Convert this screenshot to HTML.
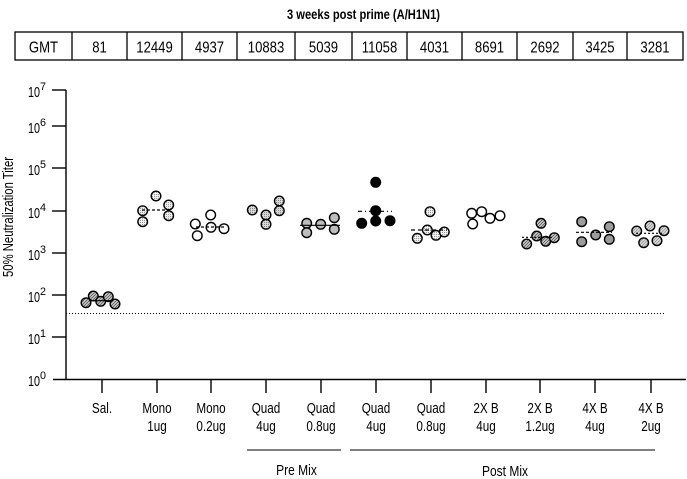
<!DOCTYPE html>
<html>
<head>
<meta charset="utf-8">
<style>
html,body{margin:0;padding:0;background:#fff;}
svg{display:block;}
text{font-family:"Liberation Sans",Arial,sans-serif;fill:#000;}
</style>
</head>
<body>
<svg width="687" height="479" viewBox="0 0 687 479" xmlns="http://www.w3.org/2000/svg">
<defs>
  <pattern id="hatch" patternUnits="userSpaceOnUse" width="3" height="3">
    <rect width="3" height="3" fill="#d0d0d0"/>
    <path d="M-1,1 L1,-1 M0,3 L3,0 M2,4 L4,2" stroke="#555" stroke-width="0.8"/>
  </pattern>
  <pattern id="hatchL" patternUnits="userSpaceOnUse" width="3" height="3">
    <rect width="3" height="3" fill="#dcdcdc"/>
    <path d="M-1,1 L1,-1 M0,3 L3,0 M2,4 L4,2" stroke="#888" stroke-width="0.7"/>
  </pattern>
  <pattern id="stip" patternUnits="userSpaceOnUse" width="2" height="2">
    <rect width="2" height="2" fill="#eeeeee"/>
    <rect width="1" height="1" fill="#9a9a9a"/>
  </pattern>
  <pattern id="stip2" patternUnits="userSpaceOnUse" width="2" height="2">
    <rect width="2" height="2" fill="#d8d8d8"/>
    <rect width="1" height="1" fill="#888"/>
  </pattern>
</defs>

<!-- Title -->
<text x="363.5" y="19" font-size="14" font-weight="bold" text-anchor="middle" textLength="153" lengthAdjust="spacingAndGlyphs">3 weeks post prime (A/H1N1)</text>

<!-- Table -->
<g stroke="#000" stroke-width="1.3" fill="none">
  <rect x="15" y="32" width="668" height="28"/>
  <line x1="72" y1="32" x2="72" y2="60"/>
  <line x1="127" y1="32" x2="127" y2="60"/>
  <line x1="182" y1="32" x2="182" y2="60"/>
  <line x1="237" y1="32" x2="237" y2="60"/>
  <line x1="295" y1="32" x2="295" y2="60"/>
  <line x1="352" y1="32" x2="352" y2="60"/>
  <line x1="407" y1="32" x2="407" y2="60"/>
  <line x1="462" y1="32" x2="462" y2="60"/>
  <line x1="517" y1="32" x2="517" y2="60"/>
  <line x1="573" y1="32" x2="573" y2="60"/>
  <line x1="627" y1="32" x2="627" y2="60"/>
</g>
<g font-size="16" text-anchor="middle">
  <text transform="translate(43.5,52.5) scale(0.82,1)">GMT</text>
  <text transform="translate(99.5,52.5) scale(0.82,1)">81</text>
  <text transform="translate(154.5,52.5) scale(0.82,1)">12449</text>
  <text transform="translate(209.5,52.5) scale(0.82,1)">4937</text>
  <text transform="translate(266,52.5) scale(0.82,1)">10883</text>
  <text transform="translate(323.5,52.5) scale(0.82,1)">5039</text>
  <text transform="translate(379.5,52.5) scale(0.82,1)">11058</text>
  <text transform="translate(434.5,52.5) scale(0.82,1)">4031</text>
  <text transform="translate(489.5,52.5) scale(0.82,1)">8691</text>
  <text transform="translate(545,52.5) scale(0.82,1)">2692</text>
  <text transform="translate(600,52.5) scale(0.82,1)">3425</text>
  <text transform="translate(655,52.5) scale(0.82,1)">3281</text>
</g>

<!-- Axes -->
<g stroke="#000" stroke-width="1.4" fill="none">
  <line x1="66" y1="90" x2="66" y2="379.5"/>
  <line x1="53" y1="379.5" x2="686" y2="379.5"/>
  <line x1="52" y1="90" x2="66" y2="90"/>
  <line x1="52" y1="126" x2="66" y2="126"/>
  <line x1="52" y1="168" x2="66" y2="168"/>
  <line x1="52" y1="211" x2="66" y2="211"/>
  <line x1="52" y1="253" x2="66" y2="253"/>
  <line x1="52" y1="295" x2="66" y2="295"/>
  <line x1="52" y1="337" x2="66" y2="337"/>
  <!-- x ticks -->
  <line x1="102" y1="379" x2="102" y2="393"/>
  <line x1="157" y1="379" x2="157" y2="393"/>
  <line x1="211" y1="379" x2="211" y2="393"/>
  <line x1="266" y1="379" x2="266" y2="393"/>
  <line x1="321" y1="379" x2="321" y2="393"/>
  <line x1="376" y1="379" x2="376" y2="393"/>
  <line x1="431" y1="379" x2="431" y2="393"/>
  <line x1="486" y1="379" x2="486" y2="393"/>
  <line x1="540" y1="379" x2="540" y2="393"/>
  <line x1="595" y1="379" x2="595" y2="393"/>
  <line x1="651" y1="379" x2="651" y2="393"/>
</g>

<!-- Y tick labels -->
<g>
  <text x="28" y="97" font-size="15" textLength="12" lengthAdjust="spacingAndGlyphs">10</text><text x="40" y="90" font-size="11" textLength="6" lengthAdjust="spacingAndGlyphs">7</text>
  <text x="28" y="133" font-size="15" textLength="12" lengthAdjust="spacingAndGlyphs">10</text><text x="40" y="126" font-size="11" textLength="6" lengthAdjust="spacingAndGlyphs">6</text>
  <text x="28" y="175" font-size="15" textLength="12" lengthAdjust="spacingAndGlyphs">10</text><text x="40" y="168" font-size="11" textLength="6" lengthAdjust="spacingAndGlyphs">5</text>
  <text x="28" y="218" font-size="15" textLength="12" lengthAdjust="spacingAndGlyphs">10</text><text x="40" y="211" font-size="11" textLength="6" lengthAdjust="spacingAndGlyphs">4</text>
  <text x="28" y="260" font-size="15" textLength="12" lengthAdjust="spacingAndGlyphs">10</text><text x="40" y="253" font-size="11" textLength="6" lengthAdjust="spacingAndGlyphs">3</text>
  <text x="28" y="302" font-size="15" textLength="12" lengthAdjust="spacingAndGlyphs">10</text><text x="40" y="295" font-size="11" textLength="6" lengthAdjust="spacingAndGlyphs">2</text>
  <text x="28" y="344" font-size="15" textLength="12" lengthAdjust="spacingAndGlyphs">10</text><text x="40" y="337" font-size="11" textLength="6" lengthAdjust="spacingAndGlyphs">1</text>
  <text x="28" y="386" font-size="15" textLength="12" lengthAdjust="spacingAndGlyphs">10</text><text x="40" y="379" font-size="11" textLength="6" lengthAdjust="spacingAndGlyphs">0</text>
</g>

<!-- Y axis title -->
<text transform="translate(13,217) rotate(-90)" font-size="15" text-anchor="middle" textLength="120" lengthAdjust="spacingAndGlyphs">50% Neutralization Titer</text>

<!-- Dotted LOD line -->
<line x1="66" y1="313.5" x2="665" y2="313.5" stroke="#000" stroke-width="1" stroke-dasharray="1,2"/>

<!-- X labels -->
<g font-size="15" text-anchor="middle">
  <text transform="translate(102,413) scale(0.78,1)">Sal.</text>
  <text transform="translate(157,413) scale(0.78,1)">Mono</text>
  <text transform="translate(157,431) scale(0.78,1)">1ug</text>
  <text transform="translate(211,413) scale(0.78,1)">Mono</text>
  <text transform="translate(211,431) scale(0.78,1)">0.2ug</text>
  <text transform="translate(266,413) scale(0.78,1)">Quad</text>
  <text transform="translate(266,431) scale(0.78,1)">4ug</text>
  <text transform="translate(321,413) scale(0.78,1)">Quad</text>
  <text transform="translate(321,431) scale(0.78,1)">0.8ug</text>
  <text transform="translate(376,413) scale(0.78,1)">Quad</text>
  <text transform="translate(376,431) scale(0.78,1)">4ug</text>
  <text transform="translate(431,413) scale(0.78,1)">Quad</text>
  <text transform="translate(431,431) scale(0.78,1)">0.8ug</text>
  <text transform="translate(486,413) scale(0.78,1)">2X B</text>
  <text transform="translate(486,431) scale(0.78,1)">4ug</text>
  <text transform="translate(540,413) scale(0.78,1)">2X B</text>
  <text transform="translate(540,431) scale(0.78,1)">1.2ug</text>
  <text transform="translate(595,413) scale(0.78,1)">4X B</text>
  <text transform="translate(595,431) scale(0.78,1)">4ug</text>
  <text transform="translate(651,413) scale(0.78,1)">4X B</text>
  <text transform="translate(651,431) scale(0.78,1)">2ug</text>
  <text transform="translate(296.5,475) scale(0.8,1)">Pre Mix</text>
  <text transform="translate(505,476) scale(0.8,1)">Post Mix</text>
</g>
<g stroke="#000" stroke-width="1">
  <line x1="247" y1="450" x2="341" y2="450"/>
  <line x1="350" y1="450" x2="655" y2="450"/>
</g>

<!-- Data points -->
<g stroke="#000" stroke-width="1.4">
  <!-- Sal -->
  <g fill="url(#hatch)">
    <circle cx="86" cy="302.7" r="4.8"/><circle cx="93.3" cy="296" r="4.8"/><circle cx="100.7" cy="301.3" r="4.8"/><circle cx="108.3" cy="296.7" r="4.8"/><circle cx="115" cy="304" r="4.8"/>
  </g>
  <!-- Mono 1ug -->
  <g fill="url(#stip)">
    <circle cx="156" cy="196" r="4.8"/><circle cx="142.7" cy="210.7" r="4.8"/><circle cx="142.7" cy="221.7" r="4.8"/><circle cx="168.7" cy="205" r="4.8"/><circle cx="168.7" cy="215.7" r="4.8"/>
  </g>
  <!-- Mono 0.2ug -->
  <g fill="#fff">
    <circle cx="210.7" cy="215" r="4.8"/><circle cx="195.3" cy="224" r="4.8"/><circle cx="197.3" cy="235.7" r="4.8"/><circle cx="211" cy="227.3" r="4.8"/><circle cx="224" cy="228.7" r="4.8"/>
  </g>
  <!-- Quad 4ug pre -->
  <g fill="url(#stip2)">
    <circle cx="252.3" cy="210" r="4.8"/><circle cx="266" cy="215" r="4.8"/><circle cx="266" cy="224.3" r="4.8"/><circle cx="279.3" cy="201" r="4.8"/><circle cx="279.3" cy="210.7" r="4.8"/>
  </g>
  <!-- Quad 0.8ug pre -->
  <g fill="#bdbdbd">
    <circle cx="306.7" cy="223.3" r="4.8"/><circle cx="306.7" cy="232.7" r="4.8"/><circle cx="320.7" cy="224.3" r="4.8"/><circle cx="334.3" cy="217.7" r="4.8"/><circle cx="334.3" cy="229.3" r="4.8"/>
  </g>
  <!-- Quad 4ug post -->
  <g fill="#000">
    <circle cx="375.7" cy="182.3" r="4.8"/><circle cx="375.7" cy="210.7" r="4.8"/><circle cx="375.7" cy="221" r="4.8"/><circle cx="361.7" cy="223.3" r="4.8"/><circle cx="390" cy="220.7" r="4.8"/>
  </g>
  <!-- Quad 0.8ug post -->
  <g fill="url(#stip)">
    <circle cx="430" cy="211.7" r="4.8"/><circle cx="417.3" cy="238.3" r="4.8"/><circle cx="427.3" cy="230" r="4.8"/><circle cx="436" cy="235.3" r="4.8"/><circle cx="444.3" cy="232" r="4.8"/>
  </g>
  <!-- 2X B 4ug -->
  <g fill="#fff">
    <circle cx="471.7" cy="213.3" r="4.8"/><circle cx="481.7" cy="211.7" r="4.8"/><circle cx="472.7" cy="224" r="4.8"/><circle cx="490" cy="218.3" r="4.8"/><circle cx="500" cy="215.7" r="4.8"/>
  </g>
  <!-- 2X B 1.2ug -->
  <g fill="url(#hatch)">
    <circle cx="541" cy="223.3" r="4.8"/><circle cx="536.7" cy="236" r="4.8"/><circle cx="526.7" cy="244" r="4.8"/><circle cx="545.7" cy="241.3" r="4.8"/><circle cx="554.3" cy="237.7" r="4.8"/>
  </g>
  <!-- 4X B 4ug -->
  <g fill="#9c9c9c">
    <circle cx="581.7" cy="221.7" r="4.8"/><circle cx="581.7" cy="241.7" r="4.8"/><circle cx="595.7" cy="235" r="4.8"/><circle cx="609.3" cy="226.7" r="4.8"/><circle cx="609.3" cy="239.3" r="4.8"/>
  </g>
  <!-- 4X B 2ug -->
  <g fill="url(#hatchL)">
    <circle cx="636.7" cy="231" r="4.8"/><circle cx="650" cy="226" r="4.8"/><circle cx="664" cy="230.7" r="4.8"/><circle cx="643.7" cy="242.7" r="4.8"/><circle cx="657" cy="240.7" r="4.8"/>
  </g>
</g>

<!-- Mean lines -->
<g stroke="#000" stroke-width="1.2" fill="none">
  <line x1="89" y1="300.7" x2="113" y2="300.7"/>
  <line x1="142" y1="210" x2="170" y2="210" stroke-dasharray="3,2"/>
  <line x1="196" y1="227" x2="224" y2="227" stroke-dasharray="3,2"/>
  <line x1="300" y1="225.3" x2="340" y2="225.3"/>
  <line x1="358" y1="211.3" x2="392" y2="211.3" stroke-dasharray="4,3,1,3"/>
  <line x1="411" y1="230" x2="447" y2="230" stroke-dasharray="4,3"/>
  <line x1="522" y1="237.3" x2="552" y2="237.3" stroke-dasharray="2,2"/>
  <line x1="576" y1="232.3" x2="612" y2="232.3" stroke-dasharray="3,2"/>
  <line x1="636" y1="233.3" x2="664" y2="233.3" stroke-dasharray="2,2"/>
</g>
</svg>
</body>
</html>
